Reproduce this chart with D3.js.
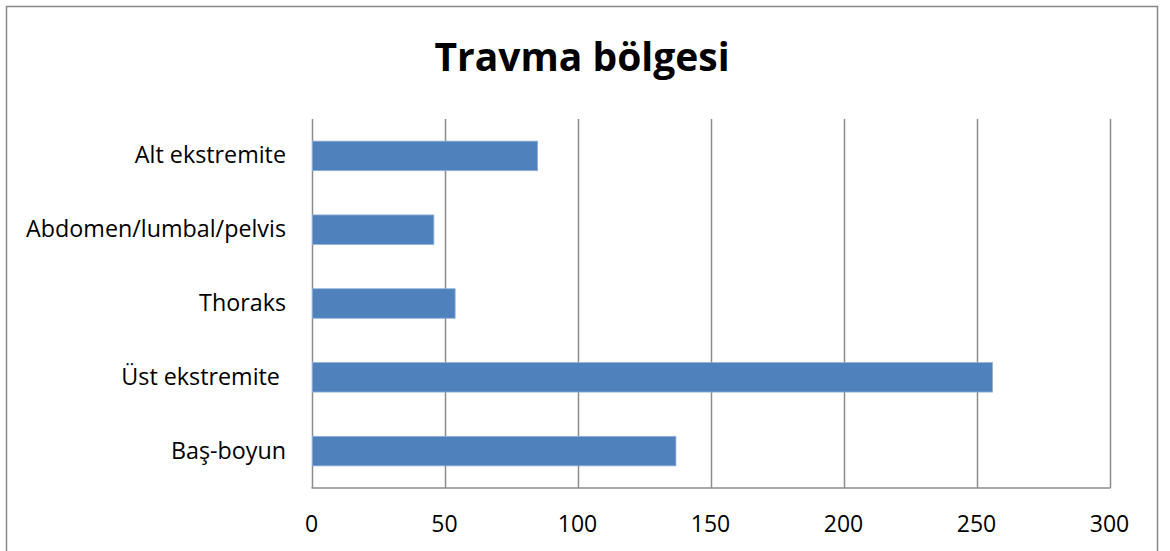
<!DOCTYPE html>
<html>
<head>
<meta charset="utf-8">
<script src="https://cdn.jsdelivr.net/npm/d3@7"></script>
<style>
    body { margin: 0; background: #fff; }
    text { font-family: "Open Sans", "Noto Sans", sans-serif; fill: #000; white-space: pre; }
</style>
</head>
<body>
<div id="chart"></div>
<script>
// kategoriler (aşağıdan yukarıya)
const categories = ["Baş-boyun", "Üst ekstremite ", "Thoraks", "Abdomen/lumbal/pelvis", "Alt ekstremite"];
const values = [137, 256, 54, 46, 85];
const ticks = [0, 50, 100, 150, 200, 250, 300];

const width = 1170, height = 551;
const margin = { top: 119, right: 60.5, bottom: 63, left: 311.5 };

const svg = d3.select("#chart")
    .append("svg")
    .attr("width", width)
    .attr("height", height);

// dış çerçeve
svg.append("rect")
    .attr("x", 6.5).attr("y", 6.5)
    .attr("width", 1151).attr("height", 600)
    .attr("fill", "#fff")
    .attr("stroke", "#878787")
    .attr("stroke-width", 1.5);

svg.append("text")
    .attr("x", 582)
    .attr("y", 71)
    .attr("text-anchor", "middle")
    .style("font-size", "39px")
    .style("font-weight", "bold")
    .text("Travma bölgesi");

const x = d3.scaleLinear()
    .domain([0, 300])
    .range([margin.left, width - margin.right]);

const y = d3.scaleBand()
    .domain(categories.slice().reverse())
    .range([margin.top, height - margin.bottom])
    .paddingInner(0.6)
    .paddingOuter(0.3);

// dikey ızgara çizgileri
svg.append("g")
    .selectAll("line")
    .data(ticks)
    .enter()
    .append("line")
    .attr("x1", d => Math.round(x(d)) + 0.5)
    .attr("x2", d => Math.round(x(d)) + 0.5)
    .attr("y1", margin.top)
    .attr("y2", height - margin.bottom)
    .attr("stroke", "#8c8c8c")
    .attr("stroke-width", 1.5);

// alt eksen çizgisi
svg.append("line")
    .attr("x1", x(0))
    .attr("x2", x(300) + 1)
    .attr("y1", height - margin.bottom)
    .attr("y2", height - margin.bottom)
    .attr("stroke", "#8c8c8c")
    .attr("stroke-width", 1.5);

// çubuklar
svg.append("g")
    .selectAll("rect")
    .data(categories)
    .enter()
    .append("rect")
    .attr("x", x(0) + 1)
    .attr("y", d => y(d))
    .attr("width", (d, i) => x(values[i]) - x(0) - 1)
    .attr("height", y.bandwidth())
    .attr("fill", "#4f81bd")
    .attr("stroke", "#8fb0d8")
    .attr("stroke-width", 0.8);

// kategori etiketleri
svg.append("g")
    .selectAll("text")
    .data(categories)
    .enter()
    .append("text")
    .attr("x", 286)
    .attr("y", d => y(d) + y.bandwidth() / 2 + 7.5)
    .attr("text-anchor", "end")
    .style("font-size", "23.3px")
    .text(d => d);

// x ekseni etiketleri
svg.append("g")
    .selectAll("text")
    .data(ticks)
    .enter()
    .append("text")
    .attr("x", d => x(d))
    .attr("y", 532)
    .attr("text-anchor", "middle")
    .style("font-size", "23px")
    .text(d => d);
</script>
</body>
</html>
